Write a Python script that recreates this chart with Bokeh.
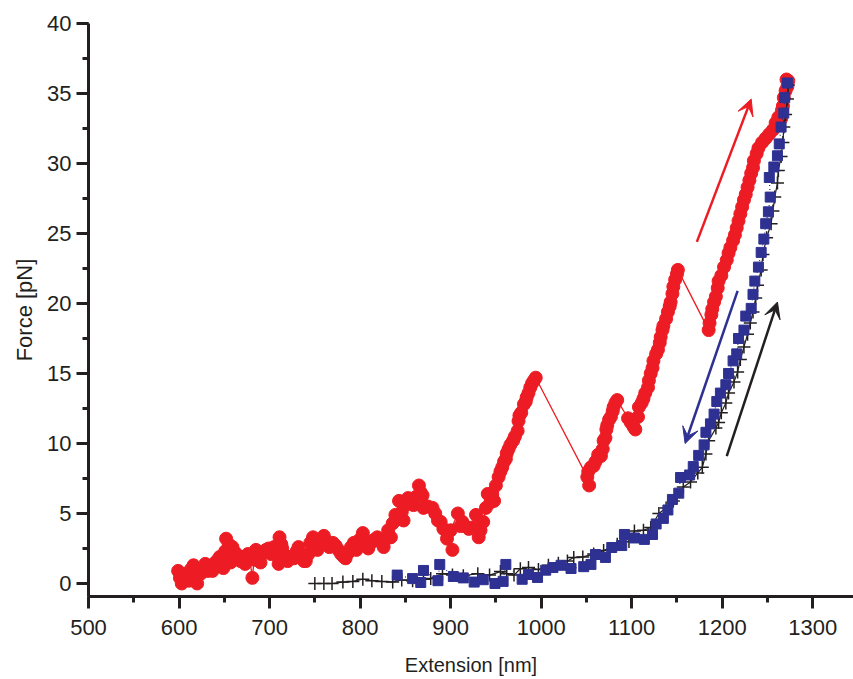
from bokeh.plotting import figure
from bokeh.models import Range1d, SingleIntervalTicker, Arrow, VeeHead
from bokeh.embed import file_html
from bokeh.resources import INLINE

# ---------------- data ----------------
red_x = [599, 601, 603, 606, 609, 611, 613, 616, 618, 620, 622, 624, 627, 629, 632, 635, 637, 640, 643, 645,
         647, 649, 651, 652, 655, 657, 659, 662, 665, 668, 671, 673, 676, 678, 681, 683, 685, 688, 690, 693,
         696, 699, 702, 705, 708, 710, 711, 713, 714, 717, 720, 723, 727, 730, 732, 735, 738, 740, 743, 745,
         748, 750, 753, 756, 758, 760, 763, 766, 770, 773, 776, 779, 782, 784, 787, 790, 793, 796, 799, 803,
         806, 809, 812, 815, 819, 822, 826, 829, 831, 834, 836, 839, 841, 843, 846, 848, 850, 853, 856, 859,
         862, 865, 867, 869, 870, 875, 880, 883, 886, 889, 892, 896, 902, 900, 908, 911, 913, 916, 920, 924,
         928, 931, 933, 936, 939, 941, 944, 946, 948, 950, 953, 955, 957, 959, 961, 962, 964, 966, 969, 971,
         974, 975, 976, 978, 981, 983, 984, 986, 988, 990, 992, 994,
         1051, 1053, 1052, 1055, 1058, 1060, 1063, 1066, 1068, 1069, 1071, 1072, 1073, 1075, 1077, 1079, 1080,
         1082, 1084,
         1096, 1099, 1102, 1104, 1107, 1108, 1111, 1113, 1115, 1118, 1119, 1121, 1123, 1124, 1127, 1129, 1131,
         1132, 1134, 1135, 1138, 1140, 1142, 1143, 1145, 1146, 1148, 1150, 1151,
         1185, 1186, 1188, 1189, 1191, 1193, 1195, 1196, 1199, 1202, 1205, 1207, 1209, 1212, 1214, 1216, 1218,
         1220, 1222, 1224, 1226, 1228, 1230, 1232, 1234, 1235, 1238, 1240, 1244, 1248, 1252, 1256, 1259, 1262,
         1265, 1266, 1267, 1268, 1270, 1272, 1271, 1273]
red_y = [0.9, 0.4, 0.0, 0.5, 0.7, 0.2, 1.0, 1.3, 0.5, 0.0, 0.8, 0.7, 1.1, 1.4, 0.9, 1.2, 0.9, 1.5, 1.7, 1.9,
         1.3, 1.1, 2.3, 3.2, 2.8, 1.5, 2.6, 2.2, 2.0, 1.6, 1.9, 1.4, 2.1, 1.8, 0.4, 1.7, 2.4, 2.0, 1.5, 2.2,
         2.4, 2.5, 2.1, 2.6, 2.2, 1.4, 3.3, 2.8, 2.5, 2.0, 1.6, 1.9, 1.8, 2.3, 2.6, 1.9, 1.6, 1.6, 2.1, 2.9,
         3.3, 2.6, 2.4, 2.8, 3.2, 3.4, 3.0, 2.6, 2.9, 2.7, 2.4, 2.1, 1.9, 1.8, 2.2, 2.6, 2.9, 2.4, 3.1, 3.6,
         3.0, 2.5, 2.9, 3.1, 3.3, 3.0, 2.6, 3.2, 3.8, 3.3, 4.3, 4.9, 4.6, 5.9, 5.1, 4.5, 5.6, 6.1, 5.8, 5.6,
         6.2, 7.0, 6.5, 6.3, 5.4, 5.5, 5.4, 5.0, 4.5, 4.4, 3.9, 3.2, 2.4, 3.8, 5.0, 4.1, 4.4, 4.1, 3.9, 4.0,
         4.9, 3.3, 3.8, 4.4, 5.4, 6.4, 5.8, 6.4, 5.9, 7.0, 7.6, 8.0, 8.3, 8.7, 8.9, 9.3, 9.6, 9.9, 10.2, 10.5,
         10.9, 11.6, 12.0, 12.2, 12.8, 13.0, 13.3, 13.6, 14.0, 14.3, 14.5, 14.7,
         7.6, 7.0, 8.0, 8.3, 8.4, 8.7, 9.2, 9.1, 9.6, 10.2, 10.4, 11.0, 11.3, 11.7, 11.9, 12.3, 12.6,
         12.9, 13.1,
         11.8, 11.5, 11.2, 11.0, 11.9, 12.6, 12.9, 13.2, 13.6, 14.0, 14.5, 15.0, 15.4, 15.9, 16.4, 16.7, 17.2,
         17.6, 18.1, 18.4, 18.9, 19.4, 19.8, 20.1, 20.7, 21.2, 21.7, 22.1, 22.4,
         18.1, 18.6, 19.2, 19.6, 20.1, 20.5, 21.1, 21.6, 22.0, 22.6, 23.1, 23.6, 24.0, 24.5, 24.9, 25.4, 25.9,
         26.4, 26.9, 27.4, 27.8, 28.3, 28.8, 29.3, 29.7, 30.2, 30.7, 31.1, 31.5, 31.8, 32.1, 32.4, 32.9, 33.3,
         33.2, 33.8, 34.1, 34.7, 35.2, 35.5, 36.0, 35.9]

black_x = [750, 760, 769, 781, 792, 803, 813, 824, 836, 846, 858, 870, 878, 891, 902, 914, 930, 943, 955, 962,
           970, 977, 986, 997, 1008, 1019, 1029, 1036, 1046, 1058, 1069, 1084, 1097, 1103, 1113, 1121, 1130,
           1138, 1146, 1157, 1165, 1173, 1178, 1182, 1185, 1193, 1196, 1199, 1204, 1207, 1213, 1217, 1220, 1224,
           1228, 1231, 1234, 1237, 1239, 1243, 1245, 1249, 1254, 1256, 1258, 1261, 1262, 1265, 1267, 1268, 1270,
           1272, 1273]
black_y = [0.0, 0.0, 0.0, 0.1, 0.15, 0.3, 0.2, 0.15, 0.1, 0.25, 0.2, 0.3, 0.35, 0.7, 0.6, 0.55, 0.7, 0.6, 0.85,
           0.7, 0.6, 1.05, 1.15, 1.0, 1.3, 1.45, 1.6, 1.85, 1.9, 2.1, 2.35, 2.8, 3.0, 3.75, 3.8, 4.0, 5.0, 5.4,
           5.9, 6.9, 7.25, 7.9, 8.3, 9.25, 10.2, 11.1, 11.5, 12.2, 12.9, 13.6, 14.4, 15.1, 16.0, 16.9, 17.8, 18.6,
           19.4, 20.4, 21.3, 22.4, 23.5, 24.7, 25.7, 26.6, 27.6, 28.6, 29.5, 30.5, 31.5, 32.6, 33.5, 34.6, 35.6]

blue_x = [841, 858, 867, 870, 886, 888, 903, 914, 926, 936, 949, 958, 961, 979, 986, 996, 1005, 1013, 1022,
          1033, 1047, 1055, 1060, 1071, 1078, 1089, 1092, 1103, 1114, 1123, 1127, 1135, 1140, 1145, 1152, 1154,
          1164, 1168, 1174, 1180, 1182, 1187, 1191, 1194, 1198, 1204, 1207, 1212, 1216, 1218, 1224, 1226, 1232,
          1234, 1236, 1240, 1243, 1246, 1248, 1251, 1253, 1252, 1257, 1261, 1263, 1265, 1268, 1269, 1272]
blue_y = [0.6, 0.35, 0.07, 0.93, 0.2, 1.36, 0.5, 0.4, 0.1, 0.27, 0.0, 0.15, 1.36, 0.3, 0.64, 0.43, 0.95, 1.14,
          1.3, 1.07, 1.2, 1.36, 2.07, 1.86, 2.57, 2.71, 3.5, 3.25, 3.15, 3.5, 4.25, 4.65, 5.25, 6.0, 6.45, 7.57,
          7.75, 8.35, 9.15, 9.9, 10.8, 11.4, 12.1, 13.0, 13.6, 14.2, 15.0, 15.9, 16.4, 17.5, 18.1, 19.1, 19.65,
          20.65, 21.6, 22.6, 23.65, 24.6, 25.7, 26.55, 27.6, 29.0, 29.75, 30.55, 31.4, 32.6, 33.6, 34.7, 35.75]

# arrows: (start x, start y) -> (end x, end y)
arrow_colors = ["#ed1c24", "#2e3192", "#231f20"]
arrow_x0 = [1172, 1217, 1205]
arrow_y0 = [24.4, 20.9, 9.1]
arrow_x1 = [1232, 1159, 1261]
arrow_y1 = [34.6, 10.0, 20.1]

x_ticks_interval = 100
y_ticks_interval = 5
x_label = "Extension [nm]"
y_label = "Force [pN]"

RED = "#ed1c24"
BLUE = "#2e3192"
INK = "#231f20"

# ---------------- figure ----------------
p = figure(width=853, height=679, output_backend="svg", toolbar_location=None,
           x_range=Range1d(500, 1345), y_range=Range1d(-0.93, 40),
           min_border_left=88, min_border_right=0, min_border_top=23, min_border_bottom=83)
p.outline_line_color = None
p.grid.visible = False
p.background_fill_color = "white"
p.border_fill_color = "white"

p.line(red_x, red_y, line_color=RED, line_width=1.3)
p.scatter(red_x, red_y, marker="circle", size=13, fill_color=RED, line_color=RED)

p.line(black_x, black_y, line_color=INK, line_width=1.2)
p.scatter(black_x, black_y, marker="cross", size=13, line_color=INK, line_width=1.5)

p.line(blue_x, blue_y, line_color=BLUE, line_width=1.2, line_dash="1 3")
p.scatter(blue_x, blue_y, marker="square", size=10, fill_color=BLUE, line_color=BLUE)

for c, xs, ys, xe, ye in zip(arrow_colors, arrow_x0, arrow_y0, arrow_x1, arrow_y1):
    p.add_layout(Arrow(end=VeeHead(size=16, fill_color=c, line_color=c, line_width=1),
                       x_start=xs, y_start=ys, x_end=xe, y_end=ye,
                       line_color=c, line_width=2.5))

p.xaxis.ticker = SingleIntervalTicker(interval=x_ticks_interval, num_minor_ticks=2)
p.yaxis.ticker = SingleIntervalTicker(interval=y_ticks_interval, num_minor_ticks=2)
p.xaxis.axis_label = x_label
p.yaxis.axis_label = y_label

for ax in (p.xaxis[0], p.yaxis[0]):
    ax.axis_line_width = 3
    ax.axis_line_color = INK
    ax.major_tick_line_width = 3
    ax.major_tick_line_color = INK
    ax.major_tick_out = 12
    ax.major_tick_in = 0
    ax.minor_tick_line_width = 3
    ax.minor_tick_line_color = INK
    ax.minor_tick_out = 6
    ax.minor_tick_in = 0
    ax.major_label_text_font = "Liberation Sans"
    ax.major_label_text_font_size = "22px"
    ax.major_label_text_color = INK
    ax.axis_label_text_font = "Liberation Sans"
    ax.axis_label_text_font_size = "20px"
    ax.axis_label_text_font_style = "normal"
    ax.axis_label_text_color = INK

p.yaxis.axis_label_text_font_size = "22px"
p.xaxis.major_label_standoff = 11
p.xaxis.axis_label_standoff = 16
p.yaxis.major_label_standoff = 5
p.yaxis.axis_label_standoff = 7

open("out.html", "w").write(file_html(p, INLINE))
